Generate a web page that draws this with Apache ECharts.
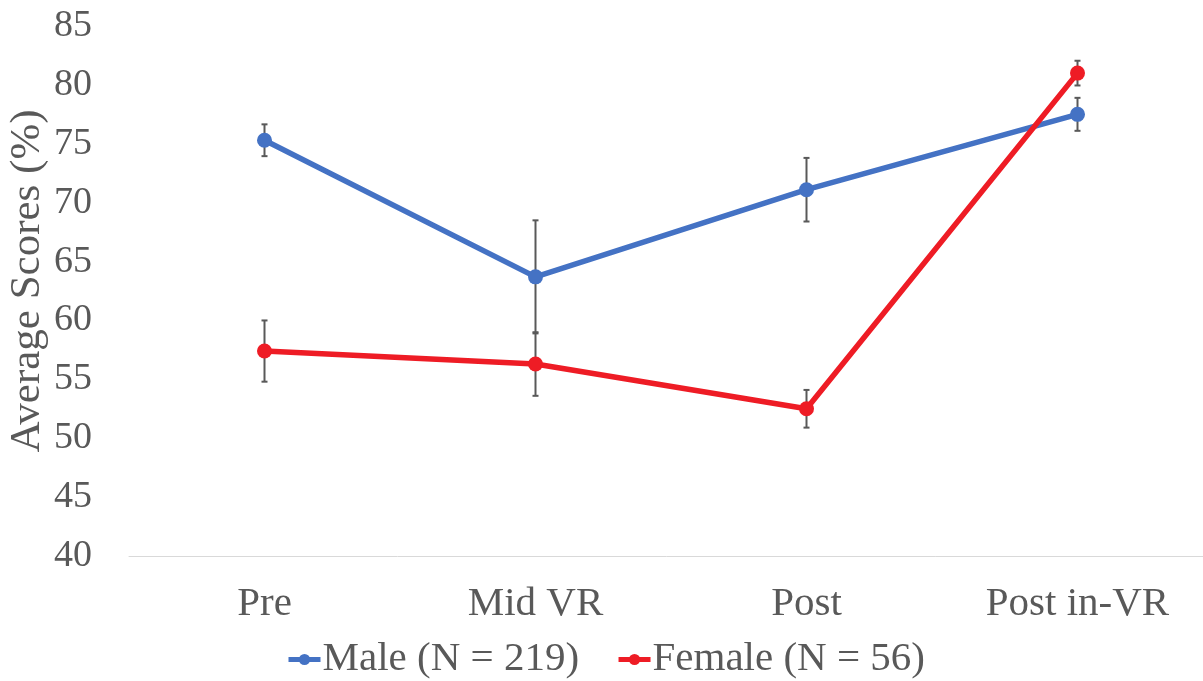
<!DOCTYPE html>
<html>
<head>
<meta charset="utf-8">
<script src="https://cdn.jsdelivr.net/npm/echarts@6/dist/echarts.min.js"></script>
<style>html,body{margin:0;padding:0;background:#fff}#c{width:1203px;height:681px}</style>
</head>
<body>
<div id="c"></div>
<script>
const categories = ['Pre', 'Mid VR', 'Post', 'Post in-VR'];
const maleValues = [75.3, 63.7, 71.1, 77.5];
const maleErrors = [1.35, 4.8, 2.7, 1.4];
const femaleValues = [57.4, 56.3, 52.5, 81.0];
const femaleErrors = [2.6, 2.7, 1.6, 1.05];
const yTicks = [40, 45, 50, 55, 60, 65, 70, 75, 80, 85];

const font = 'Liberation Serif';
const gray = '#595959';

function errData(vals, errs) {
  return vals.map((v, i) => [i, v - errs[i], v + errs[i]]);
}
function errRender(params, api) {
  const x = api.value(0);
  const lo = api.coord([x, api.value(1)]);
  const hi = api.coord([x, api.value(2)]);
  const w = 3;
  const st = {stroke: '#595959', lineWidth: 2};
  return {
    type: 'group',
    children: [
      {type: 'line', shape: {x1: lo[0], y1: lo[1], x2: hi[0], y2: hi[1]}, style: st},
      {type: 'line', shape: {x1: lo[0] - w, y1: lo[1], x2: lo[0] + w, y2: lo[1]}, style: st},
      {type: 'line', shape: {x1: hi[0] - w, y1: hi[1], x2: hi[0] + w, y2: hi[1]}, style: st}
    ]
  };
}

const chart = echarts.init(document.getElementById('c'), null, {renderer: 'canvas'});
chart.setOption({
  animation: false,
  backgroundColor: '#fff',
  textStyle: {fontFamily: font},
  grid: {left: 129, width: 1084, top: 26, bottom: 125, containLabel: false, outerBoundsMode: 'none'},
  xAxis: {
    type: 'category',
    data: categories,
    boundaryGap: true,
    axisLine: {lineStyle: {color: '#d9d9d9', width: 1}},
    axisTick: {show: false},
    axisLabel: {color: gray, fontSize: 41, fontFamily: font, margin: 28}
  },
  yAxis: {
    type: 'value',
    min: yTicks[0],
    max: yTicks[yTicks.length - 1],
    interval: 5,
    splitLine: {show: false},
    axisLine: {show: false},
    axisTick: {show: false},
    axisLabel: {color: gray, fontSize: 38, fontFamily: font, margin: 37}
  },
  graphic: [{
    type: 'text',
    x: 28,
    y: 281,
    rotation: Math.PI / 2,
    style: {text: 'Average Scores (%)', fill: gray, font: '43px "Liberation Serif"', align: 'center', verticalAlign: 'middle'}
  }],
  legend: {
    top: 634,
    left: 281,
    itemWidth: 32,
    itemHeight: 14,
    itemGap: 37,
    textStyle: {color: gray, fontSize: 41, fontFamily: font, padding: [0, 0, 0, -3]},
    lineStyle: {width: 5},
    data: ['Male (N = 219)', 'Female (N = 56)']
  },
  series: [
    {
      name: 'Male err', type: 'custom', renderItem: errRender,
      data: errData(maleValues, maleErrors), z: 1, silent: true
    },
    {
      name: 'Female err', type: 'custom', renderItem: errRender,
      data: errData(femaleValues, femaleErrors), z: 1, silent: true
    },
    {
      name: 'Male (N = 219)', type: 'line', data: maleValues, z: 3,
      symbol: 'circle', symbolSize: 15,
      lineStyle: {color: '#4472C4', width: 5.5},
      itemStyle: {color: '#4472C4'}
    },
    {
      name: 'Female (N = 56)', type: 'line', data: femaleValues, z: 3,
      symbol: 'circle', symbolSize: 15,
      lineStyle: {color: '#EE1C25', width: 5.5},
      itemStyle: {color: '#EE1C25'}
    }
  ]
});
</script>
</body>
</html>
